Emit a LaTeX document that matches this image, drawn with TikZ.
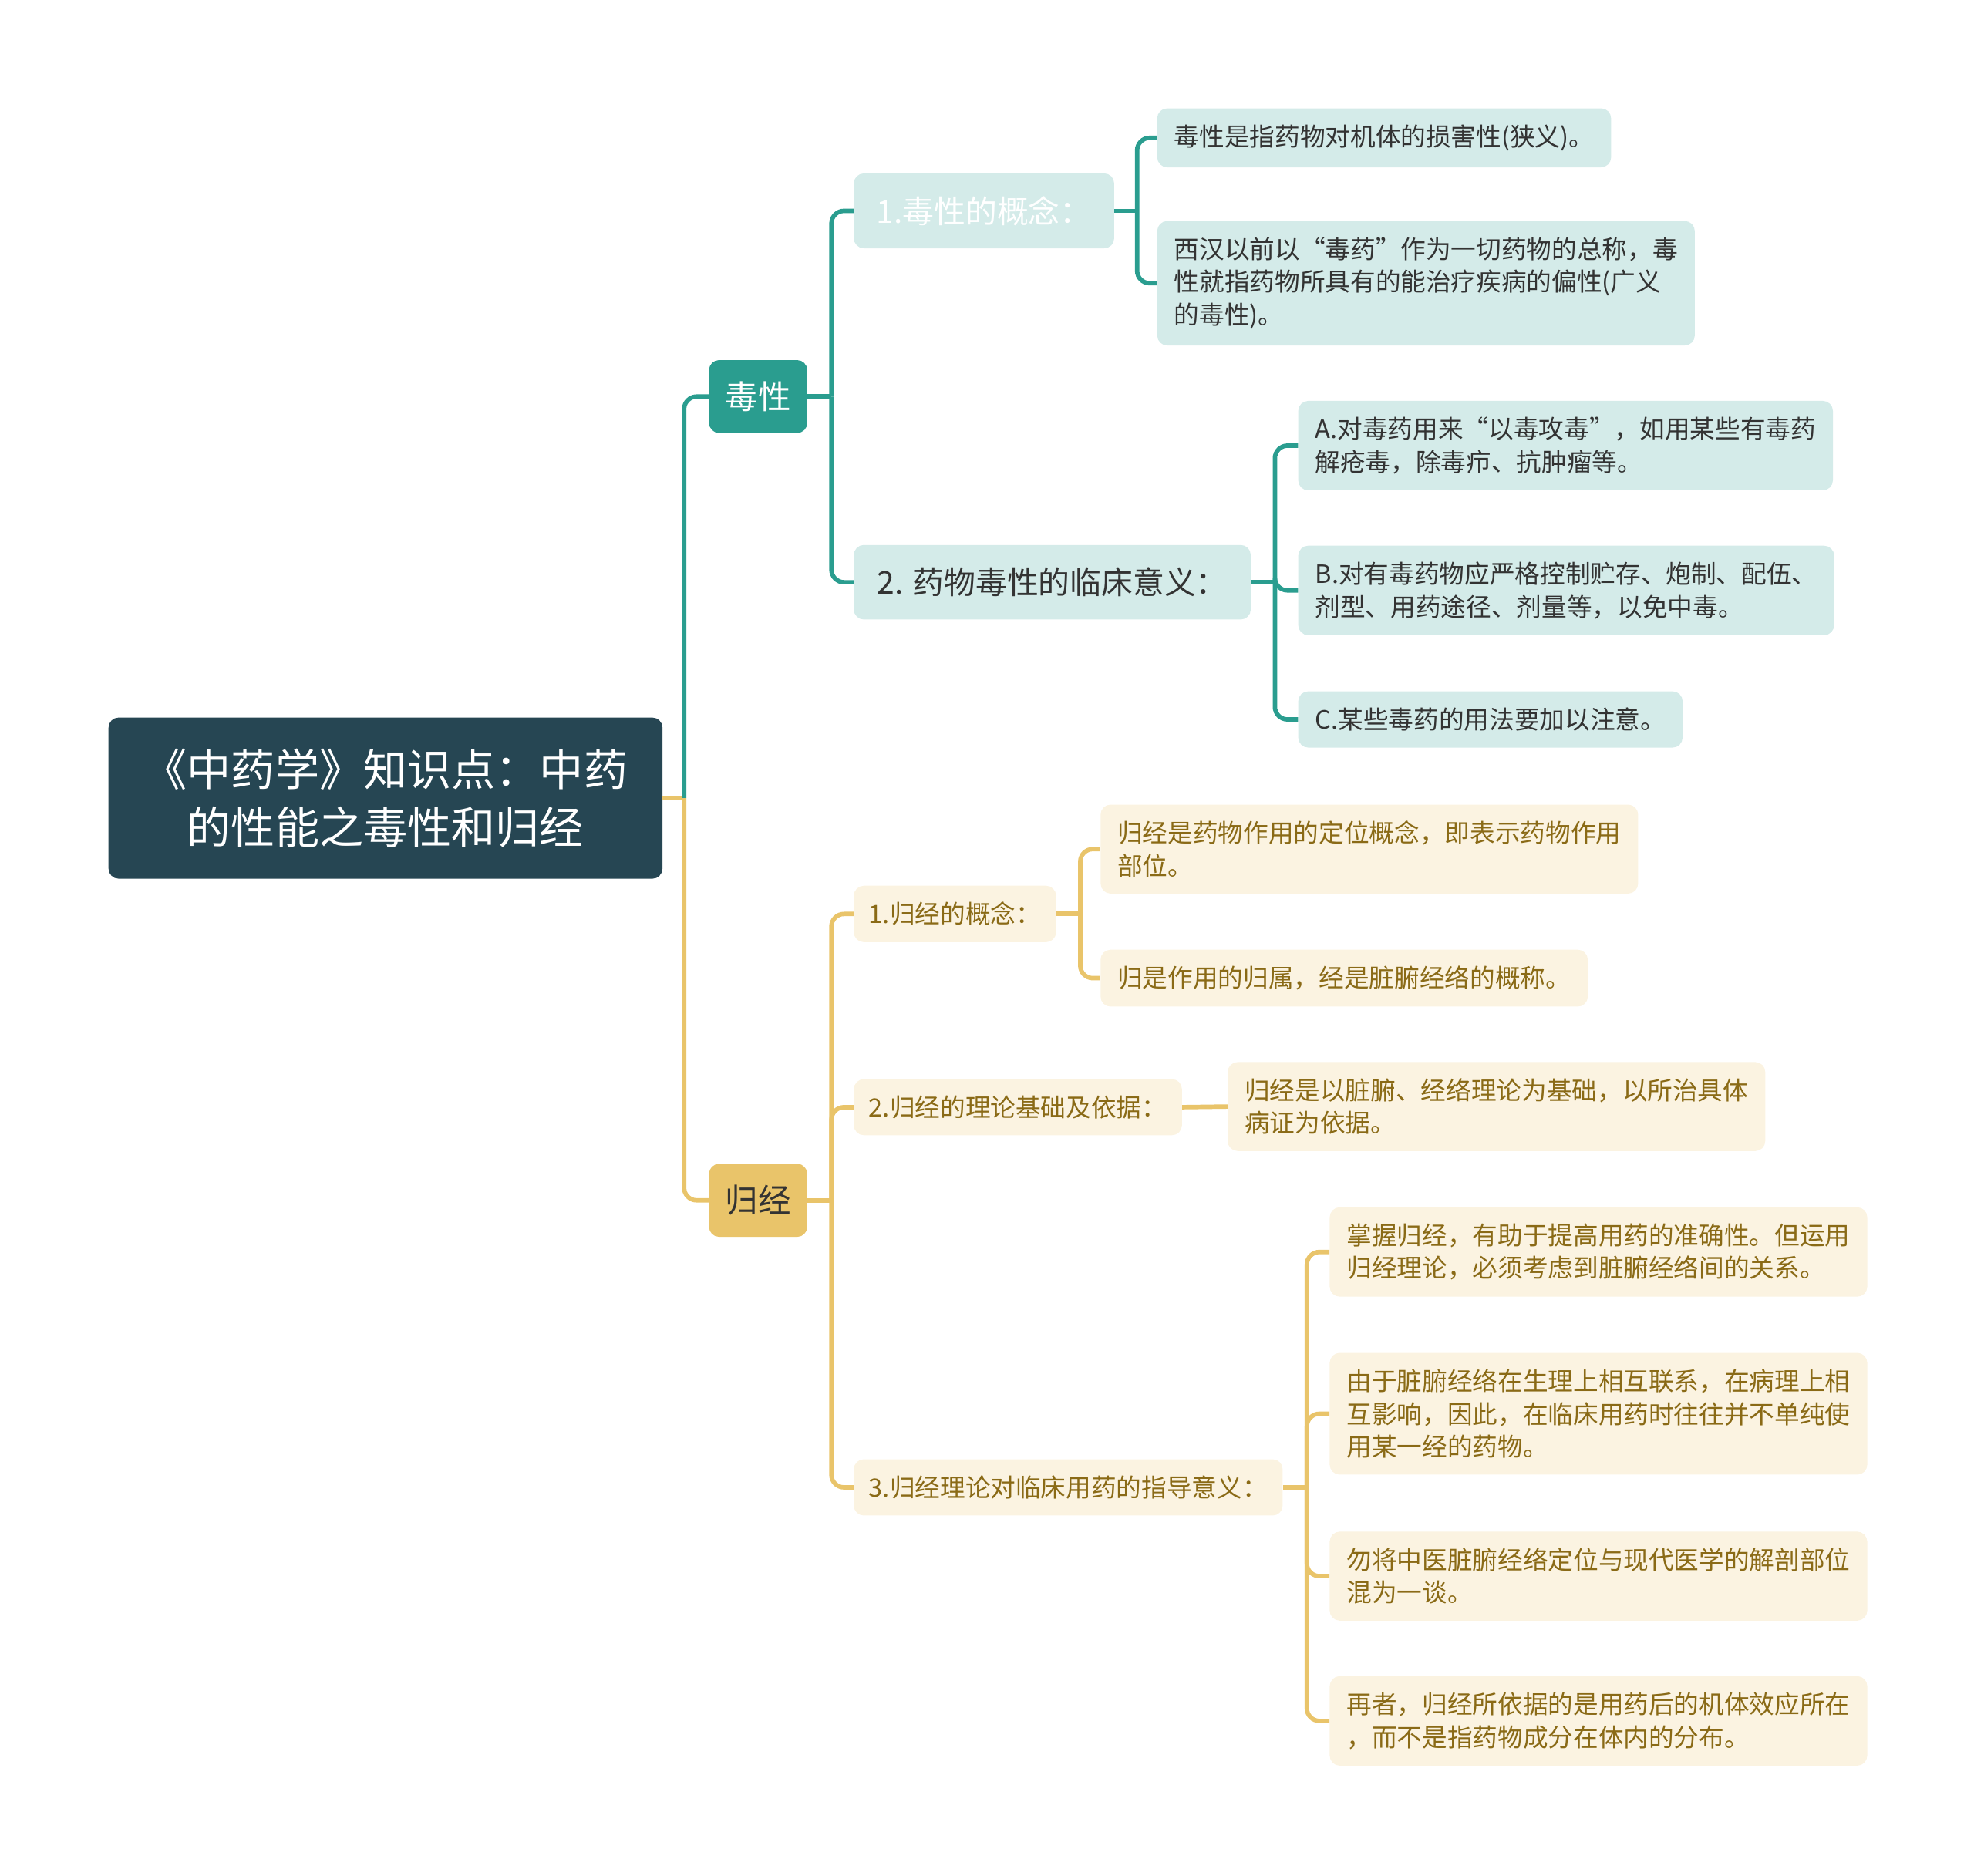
\documentclass[tikz,border=0pt]{standalone}
\usepackage{fontspec}
\setmainfont{Noto Sans CJK SC}
\usepackage{xcolor}
\usepackage{tikz}
\definecolor{rootdark}{HTML}{264653}
\definecolor{dutal}{HTML}{2A9D8F}
\definecolor{dulight}{HTML}{D4EBE9}
\definecolor{guigold}{HTML}{E9C46A}
\definecolor{guilight}{HTML}{FBF3E1}
\definecolor{guitext}{HTML}{8A6A16}
\definecolor{darktext}{HTML}{333333}
\begin{document}
\begin{tikzpicture}[x=1pt,y=-1pt,
		box/.style={rounded corners=8pt,anchor=west,align=left},
		leaf/.style={box,inner xsep=13.5pt,inner ysep=13pt,font=\fontsize{20}{26}\selectfont},
		dleaf/.style={leaf,fill=dulight,text=darktext},
		gleaf/.style={leaf,fill=guilight,text=guitext},
		tline/.style={draw=dutal,line width=3.5pt},
		gline/.style={draw=guigold,line width=3.5pt}]
		\useasboundingbox (0,0) rectangle (1568,1490);
		% root and main branches
		\node[box,fill=rootdark,text=white,align=center,minimum width=440pt,minimum height=128pt,font=\fontsize{35}{46}\selectfont] (R) at (86,634) {《中药学》知识点：中药\\的性能之毒性和归经};
		\node[box,fill=dutal,text=white,inner xsep=13pt,inner ysep=17pt,font=\fontsize{26}{30}\selectfont] (D) at (563,315) {毒性};
		\node[box,fill=guigold,text=darktext,inner xsep=13pt,inner ysep=17pt,font=\fontsize{26}{30}\selectfont] (G) at (563,953.5) {归经};
		% 毒性
		\node[box,fill=dulight,text=white,inner xsep=18pt,inner ysep=18pt,font=\fontsize{25}{30}\selectfont] (D1) at (678,167.5) {1.毒性的概念：};
		\node[box,fill=dulight,text=darktext,inner xsep=18.5pt,inner ysep=18pt,font=\fontsize{25}{30}\selectfont] (D2) at (678,462.5) {2. 药物毒性的临床意义：};
		\node[dleaf] (D11) at (919,109.5) {毒性是指药物对机体的损害性(狭义)。};
		\node[dleaf] (D12) at (919,225) {西汉以前以“毒药”作为一切药物的总称，毒\\性就指药物所具有的能治疗疾病的偏性(广义\\的毒性)。};
		\node[dleaf] (D21) at (1031,354) {A.对毒药用来“以毒攻毒”，如用某些有毒药\\解疮毒，除毒疖、抗肿瘤等。};
		\node[dleaf] (D22) at (1031,469) {B.对有毒药物应严格控制贮存、炮制、配伍、\\剂型、用药途径、剂量等，以免中毒。};
		\node[dleaf] (D23) at (1031,571.5) {C.某些毒药的用法要加以注意。};
		% 归经
		\node[gleaf,inner xsep=12pt] (G1) at (678,726) {1.归经的概念：};
		\node[gleaf,inner xsep=12pt] (G2) at (678,879.5) {2.归经的理论基础及依据：};
		\node[gleaf,inner xsep=12pt] (G3) at (678,1181.5) {3.归经理论对临床用药的指导意义：};
		\node[gleaf] (G11) at (874,674.5) {归经是药物作用的定位概念，即表示药物作用\\部位。};
		\node[gleaf] (G12) at (874,777) {归是作用的归属，经是脏腑经络的概称。};
		\node[gleaf] (G21) at (975,879) {归经是以脏腑、经络理论为基础，以所治具体\\病证为依据。};
		\node[gleaf] (G31) at (1056,994.5) {掌握归经，有助于提高用药的准确性。但运用\\归经理论，必须考虑到脏腑经络间的关系。};
		\node[gleaf] (G32) at (1056,1123) {由于脏腑经络在生理上相互联系，在病理上相\\互影响，因此，在临床用药时往往并不单纯使\\用某一经的药物。};
		\node[gleaf] (G33) at (1056,1252) {勿将中医脏腑经络定位与现代医学的解剖部位\\混为一谈。};
		\node[gleaf] (G34) at (1056,1367) {再者，归经所依据的是用药后的机体效应所在\\，而不是指药物成分在体内的分布。};
		% connectors
		\draw[gline] (R.east) -- ++(17,0) coordinate (Rj);
		\draw[tline,rounded corners=10pt] (Rj) |- (D.west);
		\draw[gline,rounded corners=10pt] (Rj) |- (G.west);
		\draw[tline] (D.east) -- ++(19,0) coordinate (Dj);
		\draw[tline,rounded corners=10pt] (Dj) |- (D1.west);
		\draw[tline,rounded corners=10pt] (Dj) |- (D2.west);
		\draw[tline] (D1.east) -- ++(18,0) coordinate (D1j);
		\draw[tline,rounded corners=10pt] (D1j) |- (D11.west);
		\draw[tline,rounded corners=10pt] (D1j) |- (D12.west);
		\draw[tline] (D2.east) -- ++(19,0) coordinate (D2j);
		\draw[tline,rounded corners=10pt] (D2j) |- (D21.west);
		\draw[tline,rounded corners=10pt] (D2j) |- (D22.west);
		\draw[tline,rounded corners=10pt] (D2j) |- (D23.west);
		\draw[gline] (G.east) -- ++(19,0) coordinate (Gj);
		\draw[gline,rounded corners=10pt] (Gj) |- (G1.west);
		\draw[gline,rounded corners=10pt] (Gj) |- (G2.west);
		\draw[gline,rounded corners=10pt] (Gj) |- (G3.west);
		\draw[gline] (G1.east) -- ++(19,0) coordinate (G1j);
		\draw[gline,rounded corners=10pt] (G1j) |- (G11.west);
		\draw[gline,rounded corners=10pt] (G1j) |- (G12.west);
		\draw[gline] (G2.east) -- (G21.west);
		\draw[gline] (G3.east) -- ++(19,0) coordinate (G3j);
		\draw[gline,rounded corners=10pt] (G3j) |- (G31.west);
		\draw[gline,rounded corners=10pt] (G3j) |- (G32.west);
		\draw[gline,rounded corners=10pt] (G3j) |- (G33.west);
		\draw[gline,rounded corners=10pt] (G3j) |- (G34.west);
	\end{tikzpicture}
\end{document}
